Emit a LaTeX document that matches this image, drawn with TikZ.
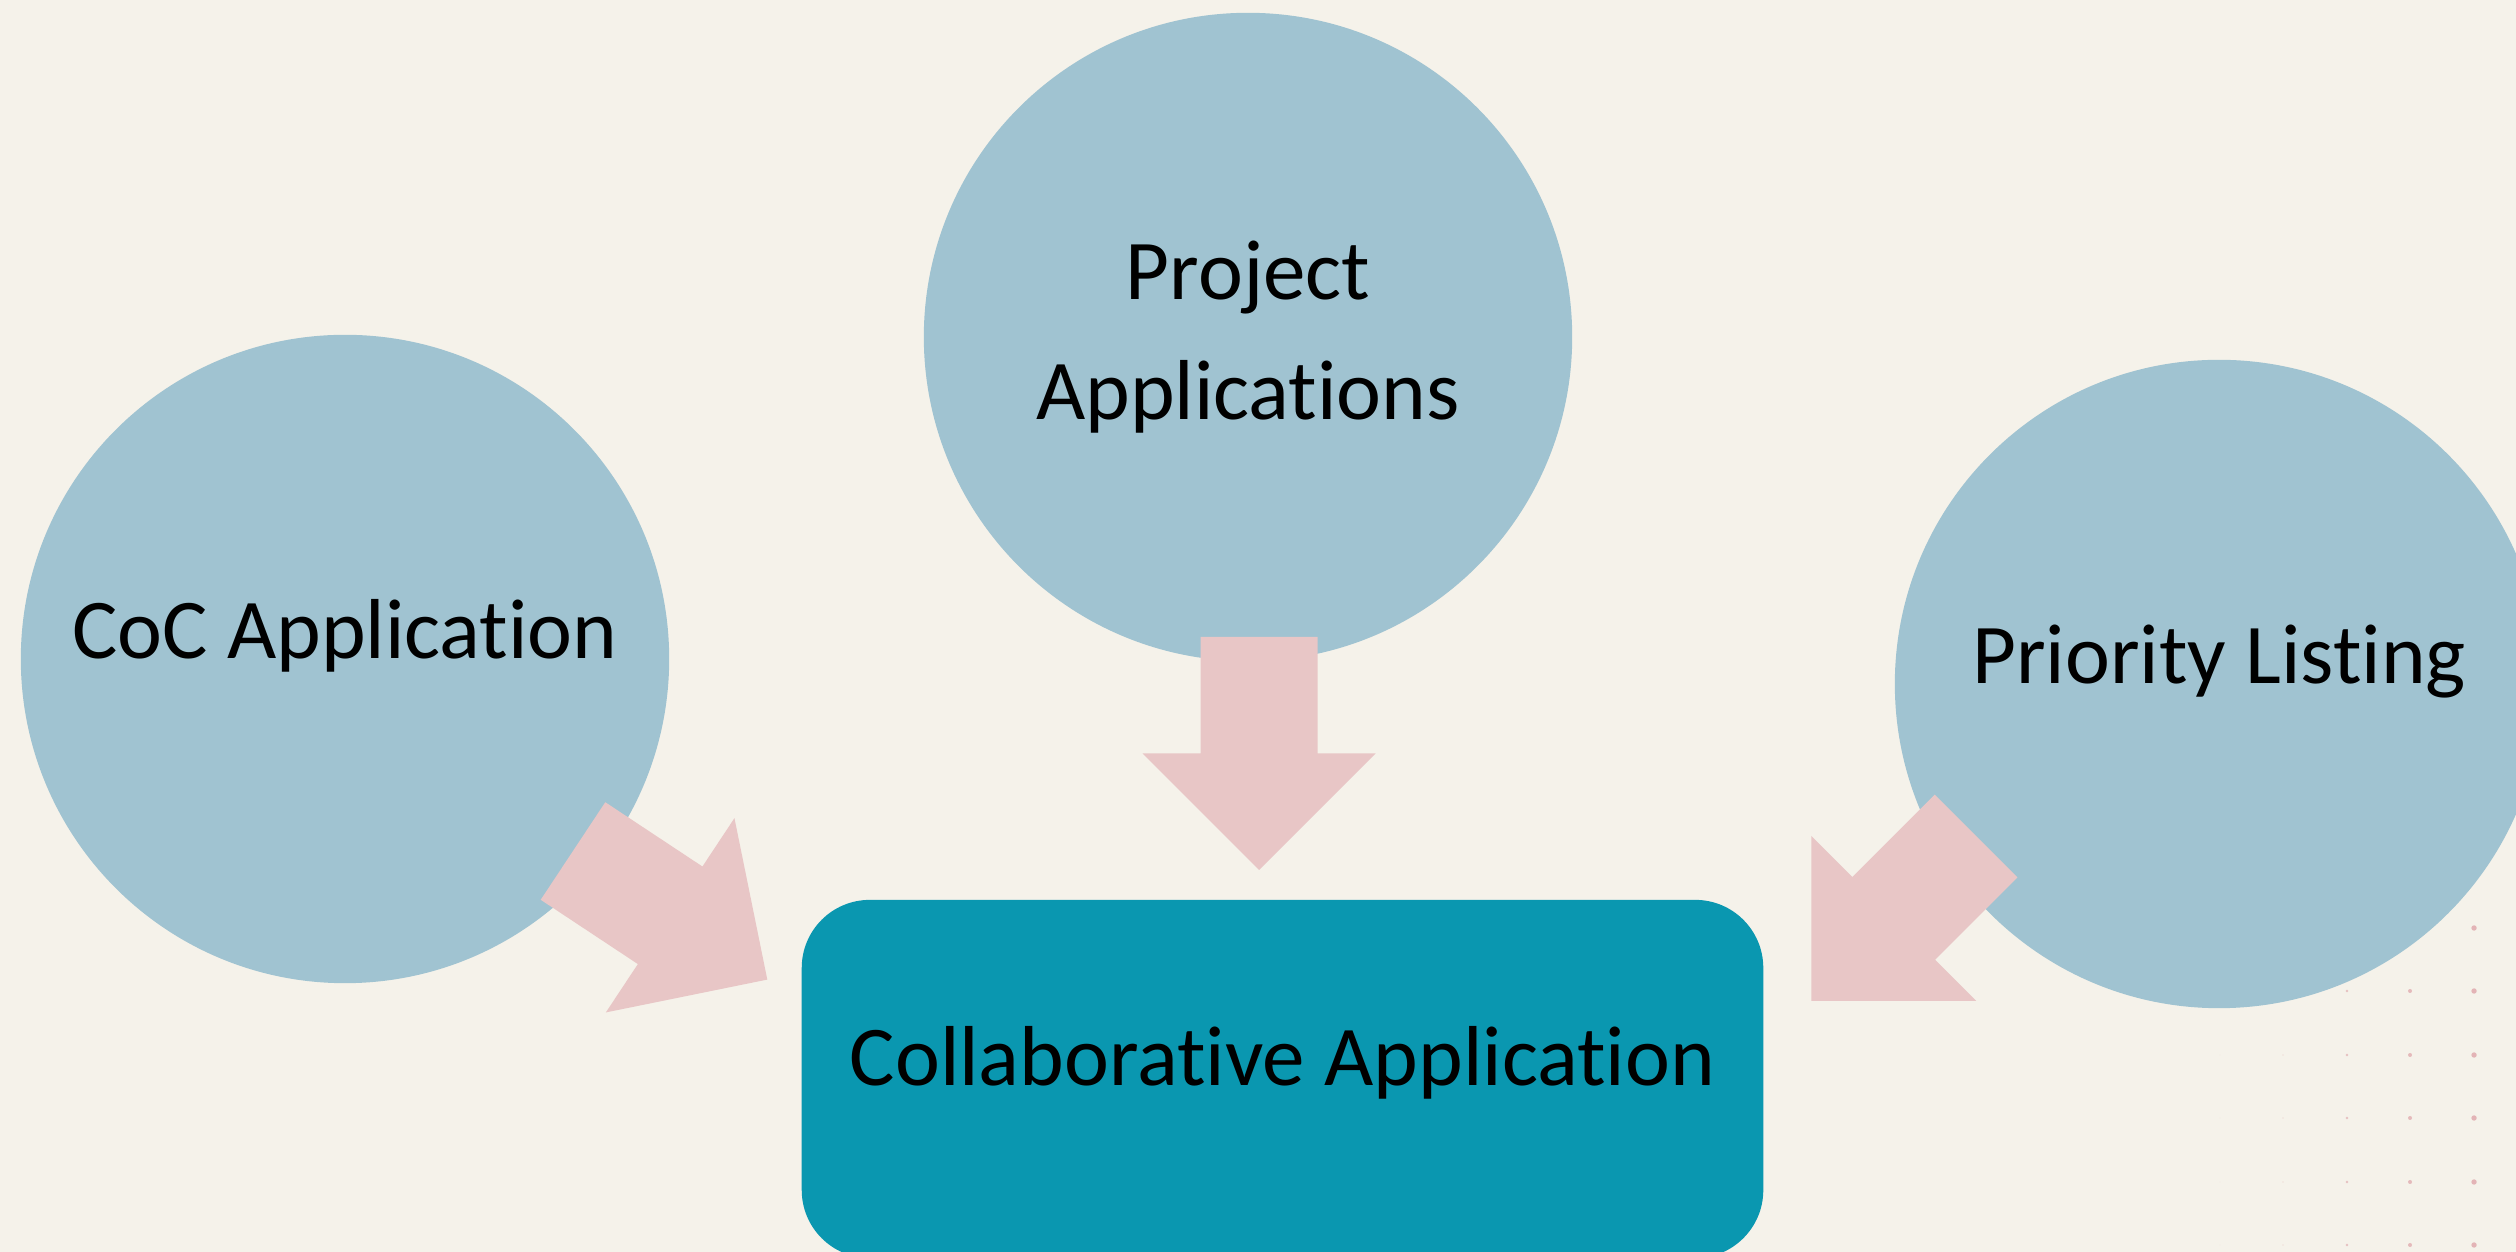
\documentclass[tikz,border=0pt]{standalone}
\usepackage{fontspec}
\setmainfont{Carlito}[RawFeature=-liga]

\definecolor{paper}{HTML}{F5F2EA}
\definecolor{bubblefill}{HTML}{A0C3D1}
\definecolor{pinkarrow}{HTML}{E8C6C6}
\definecolor{dotpink}{HTML}{E3B4B6}
\definecolor{tealbox}{HTML}{0A97B0}

\tikzset{
	bubble/.style={circle, fill=bubblefill, minimum size=6.48cm, inner sep=0pt, align=center},
	onbase/.style={text height=.6cm, text depth=.6cm},
	bigbox/.style={rectangle, rounded corners=.68cm, fill=tealbox, minimum width=9.61cm, minimum height=3.58cm, inner sep=0pt, text height=.66cm, text depth=.53cm},
	blockarrow/.pic={\fill[pinkarrow] (0,-58.5) -- (116.5,-58.5) -- (116.5,-116.5) -- (233,0) -- (116.5,116.5) -- (116.5,58.5) -- (0,58.5) -- cycle;}
}

\begin{document}
\begin{tikzpicture}[x=0.01cm, y=0.01cm, font=\fontsize{24.2}{34}\selectfont]
	\useasboundingbox (0,0) rectangle (2516,1252);
	\clip (0,0) rectangle (2516,1252);
	\fill[paper] (0,0) rectangle (2516,1252);
	% dot grid, bottom right
	\foreach \dx/\r/\o in {2220/0.003/0.3, 2283/0.007/0.6, 2347/0.013/0.8, 2410/0.02/0.9, 2474/0.027/1}
		\foreach \dy in {324,261,197,134,70,7}
			\fill[dotpink, opacity=\o] (\dx,\dy) circle[radius=\r cm];
	% the three inputs
	\node[bubble] (proj) at (1248,915) {Project\\Applications};
	\node[bubble, onbase] (coc) at (345,593) {CoC Application};
	\node[bubble, onbase] (prio) at (2219,568) {Priority Listing};
	% result
	\node[bigbox] (collab) at (1282.5,173) {Collaborative Application};
	% block arrows
	\pic[rotate=-90] at (1259,615) {blockarrow};
	\pic[rotate=-33.5] at (573,401) {blockarrow};
	\pic[rotate=-135] at (1976,416) {blockarrow};
\end{tikzpicture}
\end{document}
